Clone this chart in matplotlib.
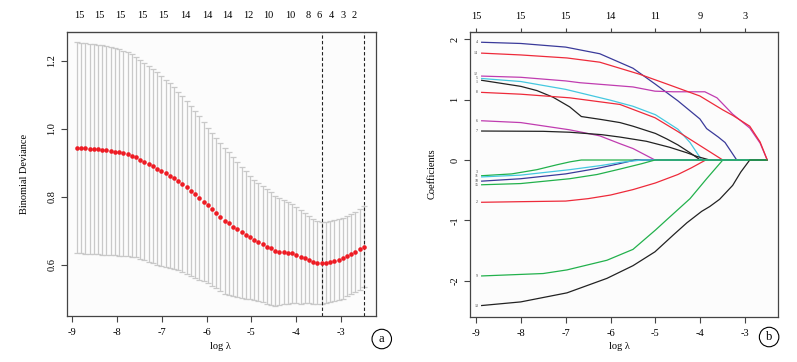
import numpy as np
import matplotlib
matplotlib.use("Agg")
import matplotlib.pyplot as plt

plt.rcParams['font.family'] = ['Liberation Serif', 'DejaVu Serif']
plt.rcParams['font.size'] = 7.5
plt.rcParams['axes.unicode_minus'] = False

# ---- panel a: cross-validated binomial deviance (mean +/- se) ----
loglam_first = -8.89
loglam_last = -2.49
cv_mean = [0.945, 0.944, 0.943, 0.942, 0.941, 0.940, 0.938, 0.937, 0.935, 0.933,
           0.931, 0.928, 0.925, 0.921, 0.917, 0.910, 0.904, 0.897, 0.890, 0.883,
           0.876, 0.869, 0.862, 0.855, 0.847, 0.838, 0.828, 0.818, 0.808, 0.797,
           0.786, 0.775, 0.764, 0.753, 0.742, 0.730, 0.723, 0.713, 0.705, 0.696,
           0.688, 0.681, 0.674, 0.668, 0.661, 0.654, 0.649, 0.642, 0.639, 0.637,
           0.636, 0.634, 0.629, 0.624, 0.620, 0.615, 0.610, 0.607, 0.605, 0.607,
           0.610, 0.612, 0.615, 0.620, 0.626, 0.632, 0.639, 0.646, 0.654]
cv_se = [0.310, 0.310, 0.310, 0.309, 0.309, 0.308, 0.308, 0.307, 0.306, 0.305,
         0.304, 0.302, 0.300, 0.298, 0.295, 0.293, 0.290, 0.288, 0.285, 0.283,
         0.280, 0.276, 0.272, 0.267, 0.263, 0.259, 0.255, 0.250, 0.245, 0.240,
         0.234, 0.228, 0.225, 0.221, 0.218, 0.214, 0.210, 0.205, 0.199, 0.193,
         0.187, 0.181, 0.177, 0.174, 0.171, 0.168, 0.166, 0.162, 0.157, 0.153,
         0.150, 0.146, 0.142, 0.138, 0.133, 0.128, 0.124, 0.122, 0.121, 0.120,
         0.119, 0.119, 0.119, 0.119, 0.118, 0.118, 0.118, 0.119, 0.120]
loglam_min = -3.43
loglam_1se = -2.49
nz_pos_a = [-8.84, -8.40, -7.93, -7.42, -6.97, -6.48, -5.99, -5.54, -5.07, -4.63,
            -4.13, -3.73, -3.49, -3.22, -2.95, -2.71]
nz_lab_a = ['15', '15', '15', '15', '15', '14', '14', '14', '12', '10',
            '10', '8', '6', '4', '3', '2']

# ---- panel b: coefficient paths (log lambda, coefficient) ----
path_1 = [(-8.87, 1.32), (-8.0, 1.22), (-7.64, 1.15), (-7.28, 1.04), (-6.91, 0.88),
          (-6.65, 0.72), (-6.2, 0.67), (-5.79, 0.62), (-5.5, 0.56), (-5.0, 0.44),
          (-4.75, 0.35), (-4.5, 0.25), (-4.23, 0.12), (-4.0, 0.0), (-2.51, 0.0)]
path_2 = [(-8.87, -0.70), (-8.0, -0.69), (-7.0, -0.68), (-6.5, -0.64), (-6.0, -0.58),
          (-5.5, -0.49), (-5.0, -0.38), (-4.5, -0.24), (-4.2, -0.13), (-3.88, 0.0),
          (-2.51, 0.0)]
path_3 = [(-8.87, -0.26), (-8.2, -0.23), (-7.64, -0.16), (-7.2, -0.08), (-6.9, -0.03),
          (-6.65, 0.0), (-2.51, 0.0)]
path_4 = [(-8.87, 1.95), (-8.0, 1.93), (-7.0, 1.87), (-6.24, 1.76), (-5.5, 1.52),
          (-5.01, 1.26), (-4.5, 0.98), (-4.01, 0.68), (-3.86, 0.52), (-3.6, 0.38),
          (-3.45, 0.29), (-3.19, 0.0), (-2.51, 0.0)]
path_5 = [(-8.87, 1.35), (-8.0, 1.30), (-7.0, 1.17), (-6.0, 0.99), (-5.5, 0.89),
          (-5.0, 0.75), (-4.5, 0.51), (-4.23, 0.29), (-3.97, 0.0), (-2.51, 0.0)]
path_6 = [(-8.87, 0.65), (-8.0, 0.62), (-6.91, 0.50), (-6.24, 0.40), (-5.79, 0.27),
          (-5.5, 0.19), (-5.01, 0.0), (-2.51, 0.0)]
path_7 = [(-8.87, 0.48), (-7.5, 0.475), (-6.91, 0.46), (-6.2, 0.42), (-5.79, 0.38),
          (-5.2, 0.31), (-4.68, 0.21), (-4.3, 0.12), (-4.08, 0.06), (-3.79, 0.0),
          (-2.51, 0.0)]
path_8 = [(-8.87, 1.12), (-8.0, 1.09), (-6.91, 1.03), (-5.79, 0.92), (-5.01, 0.70),
          (-4.52, 0.48), (-4.01, 0.24), (-3.5, 0.0), (-2.51, 0.0)]
path_9 = [(-8.87, -1.92), (-7.5, -1.88), (-6.97, -1.82), (-6.08, -1.66), (-5.5, -1.48),
          (-5.0, -1.16), (-4.75, -0.99), (-4.23, -0.64), (-3.86, -0.31), (-3.5, 0.0),
          (-2.51, 0.0)]
path_10 = [(-8.87, -0.35), (-8.0, -0.31), (-7.0, -0.23), (-6.3, -0.14), (-5.8, -0.06),
           (-5.45, 0.0), (-2.51, 0.0)]
path_11 = [(-8.87, -0.28), (-8.0, -0.25), (-6.91, -0.16), (-6.2, -0.09), (-5.79, -0.04),
           (-5.3, 0.0), (-2.51, 0.0)]
path_12 = [(-8.87, 1.39), (-8.0, 1.37), (-7.0, 1.31), (-6.68, 1.28), (-6.0, 1.24),
           (-5.5, 1.21), (-5.01, 1.14), (-4.6, 1.13), (-3.9, 1.13), (-3.63, 1.03),
           (-3.28, 0.76), (-2.9, 0.53), (-2.67, 0.28), (-2.51, 0.0)]
path_13 = [(-8.87, -2.41), (-8.0, -2.35), (-6.97, -2.2), (-6.08, -1.96), (-5.5, -1.75),
           (-5.01, -1.52), (-4.6, -1.24), (-4.3, -1.04), (-3.97, -0.85), (-3.79, -0.77),
           (-3.57, -0.65), (-3.28, -0.42), (-3.1, -0.2), (-2.9, 0.0), (-2.51, 0.0)]
path_14 = [(-8.87, 1.77), (-8.0, 1.74), (-6.97, 1.69), (-6.24, 1.62), (-5.35, 1.42),
           (-4.75, 1.26), (-4.01, 1.06), (-3.5, 0.83), (-3.28, 0.74), (-2.9, 0.56),
           (-2.67, 0.30), (-2.51, 0.0)]
path_15 = [(-8.87, -0.41), (-8.0, -0.39), (-6.91, -0.31), (-6.3, -0.24), (-5.79, -0.15),
           (-5.3, -0.06), (-5.01, 0.0), (-2.51, 0.0)]
paths = [path_1, path_2, path_3, path_4, path_5, path_6, path_7, path_8,
         path_9, path_10, path_11, path_12, path_13, path_14, path_15]
nz_pos_b = [-9, -8, -7, -6, -5, -4, -3]
nz_lab_b = ['15', '15', '15', '14', '11', '9', '3']

# R default palette, recycled over the variables
palette = ['#222222', '#ee2a3a', '#22b14c', '#3a3a9a', '#45c8e0', '#c03cb0']
# small vertical nudges so crowded path labels don't sit on top of each other
label_nudge = {1: -0.035, 12: 0.035, 3: 0.06, 11: 0.01, 10: 0.01}

frame = '#444444'

fig = plt.figure(figsize=(7.97, 3.62), dpi=100)
ax1 = fig.add_axes([0.0841, 0.1271, 0.3877, 0.7845])
ax2 = fig.add_axes([0.5897, 0.1243, 0.3865, 0.7873])

for ax in (ax1, ax2):
    ax.set_facecolor('#fcfcfc')
    for s in ax.spines.values():
        s.set_color(frame)
        s.set_linewidth(0.9)
    ax.tick_params(direction='out', length=4, width=0.8, color=frame, pad=4.5)
    ax.tick_params(axis='y', labelrotation=90, pad=3.5)
    ax.set_xticks(range(-9, -2))
    ax.set_xticklabels([str(v) for v in range(-9, -2)])

# panel a
loglam = np.linspace(loglam_first, loglam_last, len(cv_mean))
ax1.errorbar(loglam, cv_mean, yerr=cv_se, fmt='none', ecolor='#c9c9c9',
             elinewidth=0.9, capsize=2.2, capthick=0.9, zorder=1)
ax1.plot(loglam, cv_mean, 'o', color='#ee1c24', markersize=3.3,
         markeredgewidth=0, zorder=3)
ax1.axvline(loglam_min, color='#222222', ls=(0, (3, 2)), lw=0.8, zorder=2)
ax1.axvline(loglam_1se, color='#222222', ls=(0, (3, 2)), lw=0.8, zorder=2)
ax1.set_xlim(-9.11, -2.22)
ax1.set_ylim(0.45, 1.285)
ax1.set_yticks([0.6, 0.8, 1.0, 1.2])
ax1.set_yticklabels(['0.6', '0.8', '1.0', '1.2'], va='center')
top1 = ax1.secondary_xaxis('top')
top1.set_xticks(nz_pos_a)
top1.set_xticklabels(nz_lab_a)
top1.tick_params(length=0, pad=9)
top1.spines['top'].set_color(frame)

# panel b
for i, p in enumerate(paths):
    xs = [q[0] for q in p]
    ys = [q[1] for q in p]
    ax2.plot(xs, ys, color=palette[i % 6], lw=0.9)
    ax2.text(xs[0] - 0.08, ys[0] + label_nudge.get(i + 1, 0), str(i + 1),
             fontsize=2.8, ha='right', va='center', color='#333333')
ax2.set_xlim(-9.13, -2.27)
ax2.set_ylim(-2.6, 2.12)
ax2.set_yticks([-2, -1, 0, 1, 2])
ax2.set_yticklabels(['-2', '-1', '0', '1', '2'], va='center')
top2 = ax2.secondary_xaxis('top')
top2.set_xticks(nz_pos_b)
top2.set_xticklabels(nz_lab_b)
top2.tick_params(length=3, width=0.8, color=frame, pad=5)
top2.spines['top'].set_color(frame)

fig.text(0.031, 0.519, 'Binomial Deviance', rotation=90, ha='center', va='center')
fig.text(0.542, 0.519, 'Coefficients', rotation=90, ha='center', va='center')
fig.text(0.277, 0.042, 'log λ', ha='center', va='center')
fig.text(0.777, 0.042, 'log λ', ha='center', va='center')

circ = dict(boxstyle='circle,pad=0.3', fc='white', ec='black', lw=0.8)
fig.text(0.479, 0.0635, 'a', fontsize=9, ha='center', va='center', bbox=circ)
fig.text(0.965, 0.069, 'b', fontsize=9, ha='center', va='center', bbox=circ)

fig.savefig('out.png', dpi=100)
